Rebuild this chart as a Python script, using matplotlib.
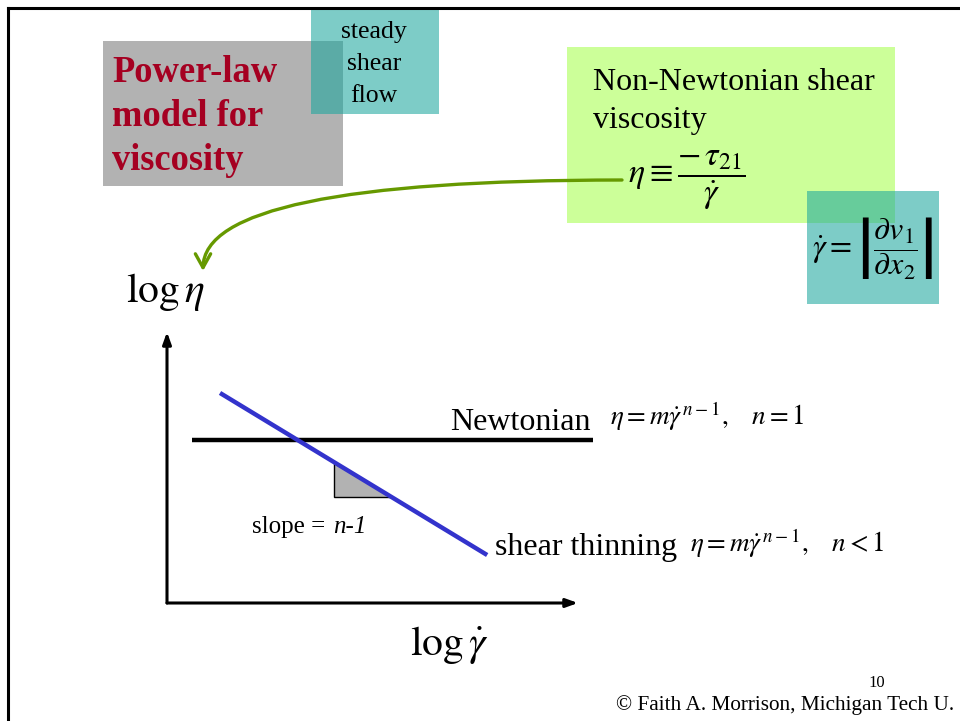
import matplotlib.pyplot as plt
from matplotlib.patches import Rectangle, FancyArrowPatch, Polygon

plt.rcParams['font.family'] = ['Liberation Serif', 'DejaVu Serif']
plt.rcParams['mathtext.fontset'] = 'stix'

# schematic log-log data (arbitrary log units, axes span 0..10)
newton_x = [0.61, 10.36]
newton_y = [6.01, 6.01]
thin_x = [1.29, 7.79]
thin_y = [7.75, 1.77]
tri_x = [4.06, 4.06, 5.47]
tri_y = [5.17, 3.91, 3.91]

title_lines = ['Power-law', 'model for', 'viscosity']
flow_lines = ['steady', 'shear', 'flow']
visc_lines = ['Non-Newtonian shear', 'viscosity']

fig = plt.figure(figsize=(9.6, 7.21), dpi=100)

# slide layer, in pixel coordinates
ax = fig.add_axes([0, 0, 1, 1])
ax.set_xlim(0, 960)
ax.set_ylim(721, 0)
ax.axis('off')

ax.plot([8, 8], [8, 721], color='black', lw=2.2, clip_on=False)
ax.plot([8, 960], [8, 8], color='black', lw=2.2, clip_on=False)

ax.add_patch(Rectangle((103, 41), 240, 145, color='#b2b2b2', lw=0))
ax.add_patch(Rectangle((311, 10), 128, 104, color=(0.10, 0.65, 0.62), alpha=0.57, lw=0))
for i, s in enumerate(title_lines):
    ax.text(112, 82 + 44 * i, s, fontsize=26.3, fontweight='bold', color='#a50021',
            va='baseline', ha='left')
for i, s in enumerate(flow_lines):
    ax.text(374, 38 + 32 * i, s, fontsize=18.5, va='baseline', ha='center')

ax.add_patch(Rectangle((567, 47), 328, 176, color='#ccff99', lw=0))
ax.add_patch(Rectangle((807, 191), 132, 113, color=(0.10, 0.65, 0.62), alpha=0.57, lw=0))
for i, s in enumerate(visc_lines):
    ax.text(593, 90 + 38 * i, s, fontsize=23, va='baseline', ha='left')
ax.text(628, 180, r'$\eta \equiv \dfrac{-\,\tau_{21}}{\dot{\gamma}}$', fontsize=24.5,
        va='center', ha='left')
ax.text(812, 248, r'$\dot{\gamma} = \left|\dfrac{\partial v_1}{\partial x_2}\right|$',
        fontsize=23, va='center', ha='left')

ax.add_patch(FancyArrowPatch((622, 180), (203, 271),
                             connectionstyle='angle3,angleA=0,angleB=90',
                             arrowstyle='->,head_length=0.45,head_width=0.25',
                             mutation_scale=22, color='#669900', lw=2.4,
                             shrinkA=0, shrinkB=0))

ax.text(126, 302, r'$\log\eta$', fontsize=30, va='baseline', ha='left')
ax.text(410, 655, r'$\log\dot{\gamma}$', fontsize=30, va='baseline', ha='left')

ax.text(450, 430, 'Newtonian', fontsize=23, va='baseline', ha='left')
ax.text(610, 425, r'$\eta = m\dot{\gamma}^{\,n-1},\quad n = 1$', fontsize=19.5,
        va='baseline', ha='left')
ax.text(495, 555, 'shear thinning', fontsize=23, va='baseline', ha='left')
ax.text(690, 552, r'$\eta = m\dot{\gamma}^{\,n-1},\quad n < 1$', fontsize=19.5,
        va='baseline', ha='left')
ax.text(252, 533, 'slope =', fontsize=18, va='baseline', ha='left')
ax.text(333, 533, 'n-1', fontsize=18, fontstyle='italic', va='baseline', ha='left')

ax.text(877, 687, '10', fontsize=12, va='baseline', ha='center')
ax.text(616, 710, '\u00a9 Faith A. Morrison, Michigan Tech U.', fontsize=15.3,
        va='baseline', ha='left')

# graph layer
gx = fig.add_axes([167 / 960, (721 - 603) / 721, (578 - 167) / 960, (603 - 332) / 721])
gx.set_xlim(0, 10)
gx.set_ylim(0, 10)
gx.axis('off')
gx.patch.set_alpha(0)

for tip in [(1, 0), (0, 1)]:
    gx.annotate('', xy=tip, xytext=(0, 0), xycoords='axes fraction',
                arrowprops=dict(arrowstyle='-|>,head_length=0.5,head_width=0.18',
                                mutation_scale=14, color='black', lw=2.2,
                                shrinkA=0, shrinkB=0))

gx.add_patch(Polygon(list(zip(tri_x, tri_y)), closed=True, facecolor='#b2b2b2',
                     edgecolor='black', lw=1))
gx.plot(newton_x, newton_y, color='black', lw=3.2, clip_on=False, solid_capstyle='butt')
gx.plot(thin_x, thin_y, color='#3333cc', lw=3.2, clip_on=False, solid_capstyle='butt')

fig.savefig('out.png', dpi=100)
